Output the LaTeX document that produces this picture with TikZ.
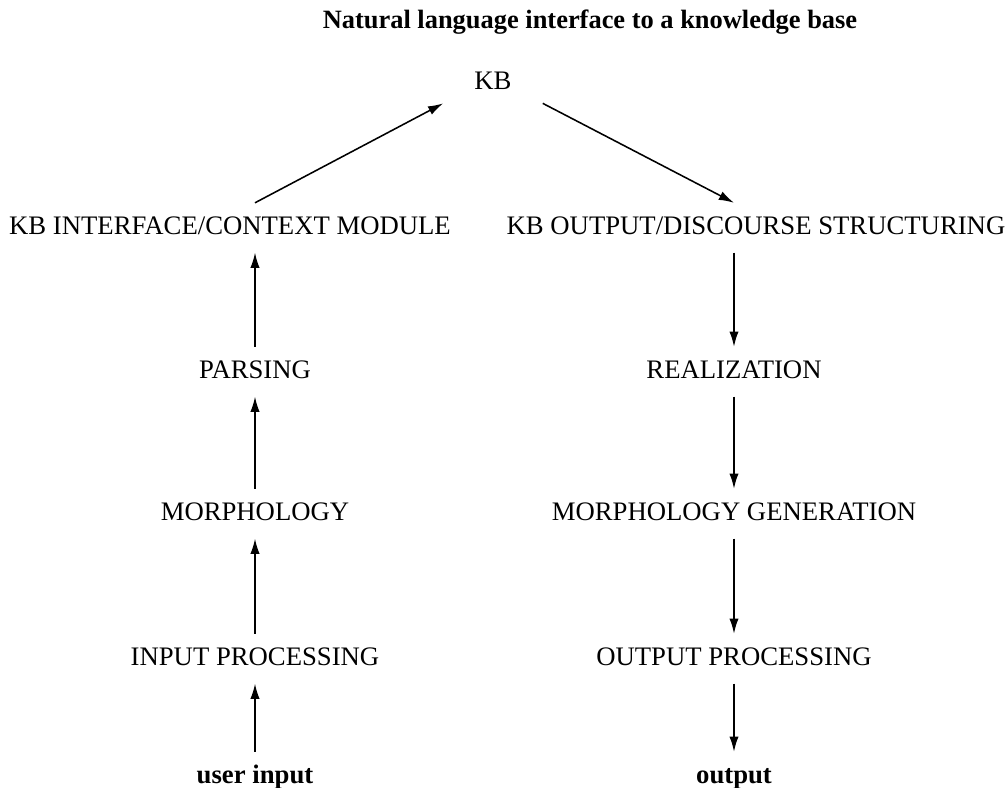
\documentclass[tikz,border=0pt]{standalone}
\usepackage{fontspec}
\setmainfont{Liberation Serif}
\usetikzlibrary{arrows.meta}
\begin{document}
\begin{tikzpicture}[
    flow/.style={line width=1.1pt,-{Latex[length=3.8mm,width=2.3mm]}},
    stage/.style={anchor=base,font=\fontsize{19}{23}\selectfont,inner sep=9pt,text height=13pt,text depth=4pt},
    endpt/.style={stage,font=\fontsize{19}{23}\selectfont\bfseries}]

\useasboundingbox (0,0) rectangle (25.2,-19.675);

        \node (title) [anchor=base,font=\fontsize{18.8}{22}\selectfont\bfseries] at (14.75,-0.7) {Natural language interface to a knowledge base};
        \node (kb) [anchor=base,font=\fontsize{19}{23}\selectfont,inner xsep=22pt,inner ysep=6pt,text depth=4pt] at (12.325,-2.225) {KB};

        % left column: analysis
        \node (kbif) [stage] at (5.75,-5.85) {KB INTERFACE/CONTEXT MODULE};
        \node (pars) [stage] at (6.375,-9.45) {PARSING};
        \node (morph) [stage] at (6.375,-13.0) {MORPHOLOGY};
        \node (inproc) [stage] at (6.375,-16.625) {INPUT PROCESSING};
        \node (user) [endpt] at (6.375,-19.575) {user input};

        % right column: generation
        \node (kbout) [stage] at (18.9,-5.85) {KB OUTPUT/DISCOURSE STRUCTURING};
        \node (real) [stage] at (18.35,-9.45) {REALIZATION};
        \node (morphgen) [stage] at (18.35,-13.0) {MORPHOLOGY GENERATION};
        \node (outproc) [stage] at (18.35,-16.625) {OUTPUT PROCESSING};
        \node (out) [endpt] at (18.35,-19.575) {output};

        \draw[flow] (user) -- (inproc);
        \draw[flow] (inproc) -- (morph);
        \draw[flow] (morph) -- (pars);
        \draw[flow] (pars) -- (pars |- kbif.south);
        \draw[flow] (pars |- kbif.north) -- (kb.south west);

        \draw[flow] (kb.south east) -- (real |- kbout.north);
        \draw[flow] (real |- kbout.south) -- (real);
        \draw[flow] (real) -- (morphgen);
        \draw[flow] (morphgen) -- (outproc);
        \draw[flow] (outproc) -- (out);

\end{tikzpicture}
\end{document}
